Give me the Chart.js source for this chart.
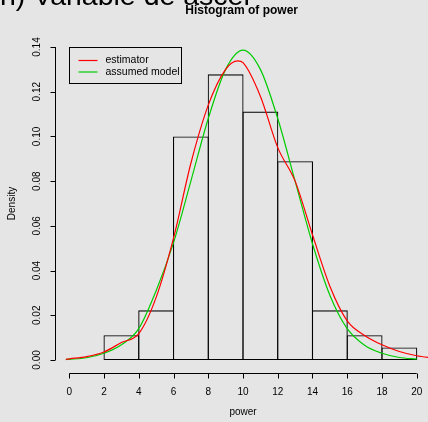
<!DOCTYPE html>
<html lang="en">
    <head>
        <meta charset="UTF-8">
        <title>Histogram of power</title>
        <script src="https://cdn.jsdelivr.net/npm/chart.js@4.4.0/dist/chart.umd.min.js"></script>
        <style>
            body { margin: 0; background: #e5e5e5; }
        </style>
    </head>
    <body>
        <canvas id="histChart" width="428" height="422"></canvas>
        <script>
            // histogram bins (midpoints) and densities
            var binMids = [3, 5, 7, 9, 11, 13, 15, 17, 19];
            var binDensity = [0.0111, 0.0222, 0.1000, 0.1278, 0.1111, 0.0889, 0.0222, 0.0111, 0.0056];

            // kernel estimator curve
            var estX = [-0.2, 0, 1, 2, 3, 4, 5, 6, 7, 8, 9, 9.7, 10, 11, 12, 13, 14, 15, 16, 17, 18, 19, 20, 21];
            var estY = [0.0003, 0.0005, 0.0015, 0.0036, 0.0078, 0.0118, 0.0280, 0.0545, 0.0880, 0.1140, 0.1300, 0.1338, 0.1330, 0.1180, 0.0950, 0.0800, 0.0560, 0.0330, 0.0175, 0.0110, 0.0068, 0.0038, 0.0019, 0.0008];

            // assumed model curve
            var modelX = [-0.2, 0, 1, 2, 3, 4, 5, 6, 7, 8, 9, 10, 11, 12, 13, 14, 15, 16, 17, 18, 19, 20];
            var modelY = [0.0002, 0.0003, 0.0010, 0.0030, 0.0068, 0.0140, 0.0310, 0.0525, 0.0800, 0.1080, 0.1300, 0.1386, 0.1300, 0.1080, 0.0800, 0.0520, 0.0290, 0.0140, 0.0066, 0.0030, 0.0011, 0.0004];

            var xTicks = [0, 2, 4, 6, 8, 10, 12, 14, 16, 18, 20];
            var yTicks = [0, 0.02, 0.04, 0.06, 0.08, 0.10, 0.12, 0.14];

            var FONT = '"Liberation Sans", Arial, Helvetica, sans-serif';
            var BAR_LINE = 1.1;

            function pts(xs, ys) {
                return xs.map(function (x, i) { return { x: x, y: ys[i] }; });
            }

            // R style axes, labels, legend and background
            var rStyle = {
                id: 'rStyle',
                beforeDraw: function (chart) {
                    var c = chart.ctx;
                    c.save();
                    c.fillStyle = '#e5e5e5';
                    c.fillRect(0, 0, chart.width, chart.height);
                    // cut-off slide heading above the plot
                    c.fillStyle = '#000';
                    c.font = '28.5px ' + FONT;
                    c.textBaseline = 'alphabetic';
                    c.textAlign = 'left';
                    c.fillText('n) Variable de ascer', 0, 5);
                    c.restore();
                },
                afterDraw: function (chart) {
                    var c = chart.ctx;
                    var xs = chart.scales.x, ys = chart.scales.y;
                    var area = chart.chartArea;
                    c.save();
                    c.strokeStyle = '#000';
                    c.fillStyle = '#000';
                    c.lineWidth = 1;

                    // x axis
                    var yb = Math.round(area.bottom) + 0.5;
                    c.beginPath();
                    c.moveTo(xs.getPixelForValue(xTicks[0]), yb);
                    c.lineTo(xs.getPixelForValue(xTicks[xTicks.length - 1]), yb);
                    xTicks.forEach(function (t) {
                        var px = Math.round(xs.getPixelForValue(t)) + 0.5;
                        c.moveTo(px, yb);
                        c.lineTo(px, yb + 5);
                    });
                    c.stroke();
                    c.font = '10px ' + FONT;
                    c.textAlign = 'center';
                    c.textBaseline = 'middle';
                    xTicks.forEach(function (t) {
                        c.fillText(String(t), xs.getPixelForValue(t), 392);
                    });
                    c.fillText('power', (xs.getPixelForValue(0) + xs.getPixelForValue(20)) / 2, 412);

                    // y axis
                    var xl = Math.round(area.left) + 0.5;
                    c.beginPath();
                    c.moveTo(xl, ys.getPixelForValue(yTicks[0]));
                    c.lineTo(xl, ys.getPixelForValue(yTicks[yTicks.length - 1]));
                    yTicks.forEach(function (t) {
                        var py = Math.round(ys.getPixelForValue(t)) + 0.5;
                        c.moveTo(xl, py);
                        c.lineTo(xl - 5, py);
                    });
                    c.stroke();
                    yTicks.forEach(function (t) {
                        c.save();
                        c.translate(37, ys.getPixelForValue(t));
                        c.rotate(-Math.PI / 2);
                        c.fillText(t.toFixed(2), 0, 0);
                        c.restore();
                    });
                    c.save();
                    c.translate(12, (ys.getPixelForValue(0) + ys.getPixelForValue(0.14)) / 2);
                    c.rotate(-Math.PI / 2);
                    c.fillText('Density', 0, 0);
                    c.restore();

                    // legend box, anchored at (0, 0.14)
                    var lx = Math.round(xs.getPixelForValue(0)) + 0.5;
                    var ly = Math.round(ys.getPixelForValue(0.14)) + 0.5;
                    c.strokeRect(lx, ly, 112, 36);
                    var items = chart.data.datasets.filter(function (d) { return d.type === 'line'; });
                    c.font = '10.5px ' + FONT;
                    c.textAlign = 'left';
                    items.forEach(function (d, i) {
                        var yy = ly + 13 + i * 11.5;
                        c.strokeStyle = d.borderColor;
                        c.lineWidth = 1.2;
                        c.beginPath();
                        c.moveTo(lx + 9, yy);
                        c.lineTo(lx + 28, yy);
                        c.stroke();
                        c.fillStyle = '#000';
                        c.fillText(d.label, lx + 36, yy);
                    });
                    c.restore();
                }
            };

            var ctx = document.getElementById('histChart').getContext('2d');
            var histChart = new Chart(ctx, {
                type: 'bar',
                data: {
                    datasets: [{
                        type: 'bar',
                        label: 'power',
                        data: pts(binMids, binDensity),
                        backgroundColor: 'rgba(0,0,0,0)',
                        borderColor: '#000',
                        borderWidth: BAR_LINE,
                        borderSkipped: false,
                        // bars overlap by one line width so shared edges are single lines
                        barPercentage: 1 + BAR_LINE / 34.74,
                        categoryPercentage: 1,
                        order: 3
                    }, {
                        type: 'line',
                        label: 'estimator',
                        data: pts(estX, estY),
                        borderColor: '#ff0000',
                        borderWidth: 1.2,
                        pointRadius: 0,
                        cubicInterpolationMode: 'monotone',
                        fill: false,
                        order: 1
                    }, {
                        type: 'line',
                        label: 'assumed model',
                        data: pts(modelX, modelY),
                        borderColor: '#00cc00',
                        borderWidth: 1.2,
                        pointRadius: 0,
                        cubicInterpolationMode: 'monotone',
                        fill: false,
                        order: 2
                    }]
                },
                options: {
                    responsive: false,
                    animation: false,
                    layout: {
                        padding: { left: 55.4, right: 0, top: 0, bottom: 49.5 }
                    },
                    plugins: {
                        legend: { display: false },
                        tooltip: { enabled: false },
                        title: {
                            display: true,
                            text: 'Histogram of power',
                            color: '#000',
                            font: { family: FONT, size: 12, weight: 'bold', lineHeight: 1.2 },
                            padding: { top: 3, bottom: 17.1 }
                        }
                    },
                    scales: {
                        x: {
                            type: 'linear',
                            display: false,
                            offset: false,
                            min: -0.8,
                            max: 20.65
                        },
                        y: {
                            type: 'linear',
                            display: false,
                            min: -0.0056,
                            max: 0.1456
                        }
                    }
                },
                plugins: [rStyle]
            });
        </script>
    </body>
</html>
